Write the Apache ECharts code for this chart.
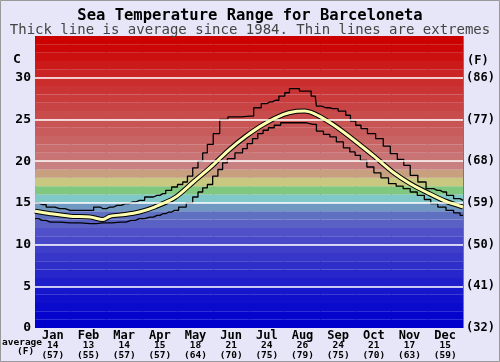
<!DOCTYPE html>
<html>
<head>
<meta charset="utf-8">
<script src="https://cdn.jsdelivr.net/npm/echarts@6/dist/echarts.min.js"></script>
<style>
html,body{margin:0;padding:0;background:#e6e6f8;}
#c{width:500px;height:362px;}
</style>
</head>
<body>
<div id="c"></div>
<script>
// ---- data ----
var months = ['Jan','Feb','Mar','Apr','May','Jun','Jul','Aug','Sep','Oct','Nov','Dec'];
var monthAvgC = [14,13,14,15,18,21,24,26,24,21,17,15];
var monthAvgF = [57,55,57,57,64,70,75,79,75,70,63,59];
var yTicksC = [0,5,10,15,20,25,30];
var yTicksF = ['(32)','(41)','(50)','(59)','(68)','(77)','(86)'];

// average line (day of year, deg C)
var avgDays  = [0,13,30,47,58,64,77,89,102,119,135,150,165,180,196,212,222,230,238,246,254,263,274,289,305,320,335,350,365];
var avgTemps = [14.0,13.7,13.4,13.3,13.0,13.4,13.6,13.9,14.5,15.6,17.5,19.3,21.3,23.0,24.5,25.6,25.95,26.0,25.7,25.1,24.4,23.5,22.3,20.6,18.7,17.3,16.2,15.2,14.5];

// upper extreme
var maxDays  = [0,6,13,21,30,47,53,58,64,70,77,83,89,98,104,109,114,119,124,128,132,137,141,145,149,155,160,169,183,190,196,200,205,211,215,219,232,239,241,248,254,263,267,271,276,280,287,294,300,306,312,317,323,330,337,343,348,354,360,365];
var maxTemps = [15.0,14.8,14.5,14.3,14.1,14.1,14.5,14.3,14.5,14.7,14.9,15.1,15.3,15.7,15.9,16.1,16.5,16.9,17.2,17.5,18.2,19.2,20.0,21.0,22.0,23.3,25.0,25.3,25.4,26.4,26.9,27.1,27.3,27.8,28.2,28.7,28.4,27.8,26.6,26.4,26.3,26.0,25.5,24.8,24.3,23.9,23.3,22.7,21.8,20.9,20.2,19.5,18.3,17.5,16.7,16.5,16.3,15.9,15.5,15.3];

// lower extreme
var minDays  = [0,6,13,30,47,58,73,82,89,98,104,109,114,119,126,132,137,141,145,149,154,158,162,166,175,179,183,188,192,197,201,207,212,226,237,243,249,254,260,266,271,275,280,286,292,298,305,311,317,323,329,335,340,347,354,360,365];
var minTemps = [13.1,12.9,12.7,12.6,12.5,12.6,12.7,12.9,13.1,13.3,13.5,13.7,13.9,14.1,14.5,15.0,15.7,16.3,16.8,17.2,18.2,19.0,19.8,20.3,21.0,21.5,22.1,22.7,23.3,23.7,24.0,24.3,24.6,24.6,24.4,23.6,23.2,22.9,22.3,21.6,21.1,20.7,20.1,19.3,18.6,18.0,17.3,17.0,16.7,16.3,15.9,15.4,14.9,14.5,14.1,13.8,13.5];

// ---- build ----
function pairs(d, t){ return d.map(function(v,i){ return [v, t[i]]; }); }

var bandColors = [
 '#0000cc','#0404cc','#0a0acc','#1010cc','#1616cc','#1e1ecb','#2626ca','#2e2ec9','#3636c8','#3e3ec8',
 '#4848c8','#5050c8','#5a60c4','#6070c0','#7098c0','#80c8c8','#80c880','#c8c880','#c8a080','#c88080',
 '#c87474','#c86c6c','#c86464','#c85c5c','#c85454','#c84c4c','#c84444','#ca3c3c','#ca3434','#cb2c2c',
 '#cb2424','#cc1a1a','#cc1010','#cc0606','#cc0000'
];
var bands = bandColors.map(function(c,i){
  return [{yAxis:i, itemStyle:{color:c}}, {yAxis:i+1}];
});
var gridLines = [5,10,15,20,25,30].map(function(v){ return {yAxis:v}; });

var chart = echarts.init(document.getElementById('c'), null, {renderer:'canvas'});
var mono = 'DejaVu Sans Mono';
chart.setOption({
  backgroundColor:'#e6e6f8',
  animation:false,
  title:[
    {text:'Sea Temperature Range for Barceloneta', left:'center', top:3,
     textStyle:{fontFamily:mono, fontSize:15.5, fontWeight:'bold', color:'#000'}},
    {text:'Thick line is average since 1984. Thin lines are extremes', left:'center', top:18,
     textStyle:{fontFamily:mono, fontSize:14, fontWeight:'normal', color:'#444'}}
  ],
  grid:{left:35, right:37, top:36, bottom:34},
  xAxis:[
    {type:'value', min:0, max:365, show:false},
    {type:'category', data:months, boundaryGap:true, position:'bottom',
     axisLine:{show:false}, axisTick:{show:false},
     splitLine:{show:true, lineStyle:{color:'rgba(60,60,60,0.65)', width:1}},
     axisLabel:{margin:3, interval:0, lineHeight:9.5,
       formatter:function(v,i){ return '{m|'+v+'}\n{v|'+monthAvgC[i]+'}\n{v|('+monthAvgF[i]+')}'; },
       rich:{m:{fontFamily:mono, fontWeight:'bold', fontSize:12, color:'#000', lineHeight:10},
             v:{fontFamily:mono, fontWeight:'bold', fontSize:9.5, color:'#000', lineHeight:9.5}}}
    }
  ],
  yAxis:[
    {type:'value', min:0, max:35, interval:5, position:'left',
     axisLine:{show:false}, axisTick:{show:false}, splitLine:{show:false},
     axisLabel:{fontFamily:mono, fontWeight:'bold', fontSize:13, color:'#000', margin:4,
       formatter:function(v){ return yTicksC.indexOf(v) >= 0 ? String(v) : ''; }}},
    {type:'value', min:0, max:35, interval:5, position:'right',
     axisLine:{show:false}, axisTick:{show:false}, splitLine:{show:false},
     axisLabel:{fontFamily:mono, fontWeight:'bold', fontSize:12, color:'#000', margin:3,
       formatter:function(v){ var k = yTicksC.indexOf(v); return k >= 0 ? yTicksF[k] : ''; }}}
  ],
  series:[
    {type:'line', xAxisIndex:0, yAxisIndex:0, data:[], silent:true, z:1,
     markArea:{silent:true, data:bands, itemStyle:{borderWidth:0}},
     markLine:{silent:true, symbol:'none', data:gridLines, label:{show:false},
               lineStyle:{color:'#ffffff', width:1.5, type:'solid'}}},
    {type:'line', xAxisIndex:0, yAxisIndex:0, data:pairs(maxDays,maxTemps), step:'middle',
     showSymbol:false, lineStyle:{color:'#000', width:1.3}, z:3},
    {type:'line', xAxisIndex:0, yAxisIndex:0, data:pairs(minDays,minTemps), step:'middle',
     showSymbol:false, lineStyle:{color:'#000', width:1.3}, z:3},
    {type:'line', xAxisIndex:0, yAxisIndex:0, data:pairs(avgDays,avgTemps), smooth:0.3,
     showSymbol:false, lineStyle:{color:'#000', width:5}, z:4},
    {type:'line', xAxisIndex:0, yAxisIndex:0, data:pairs(avgDays,avgTemps), smooth:0.3,
     showSymbol:false, lineStyle:{color:'#ffffb0', width:3}, z:5}
  ],
  graphic:[
    {type:'text', left:13, top:53, style:{text:'C', fontFamily:mono, fontWeight:'bold', fontSize:13, fill:'#000'}},
    {type:'text', left:467, top:55, style:{text:'(F)', fontFamily:mono, fontWeight:'bold', fontSize:12, fill:'#000'}},
    {type:'text', left:2, top:338, style:{text:'average', fontFamily:mono, fontWeight:'bold', fontSize:9.5, fill:'#000'}},
    {type:'text', left:17, top:347, style:{text:'(F)', fontFamily:mono, fontWeight:'bold', fontSize:9.5, fill:'#000'}},
    {type:'rect', shape:{x:0.5, y:0.5, width:499, height:361}, style:{fill:'none', stroke:'#999', lineWidth:1}, silent:true}
  ]
});
</script>
</body>
</html>
